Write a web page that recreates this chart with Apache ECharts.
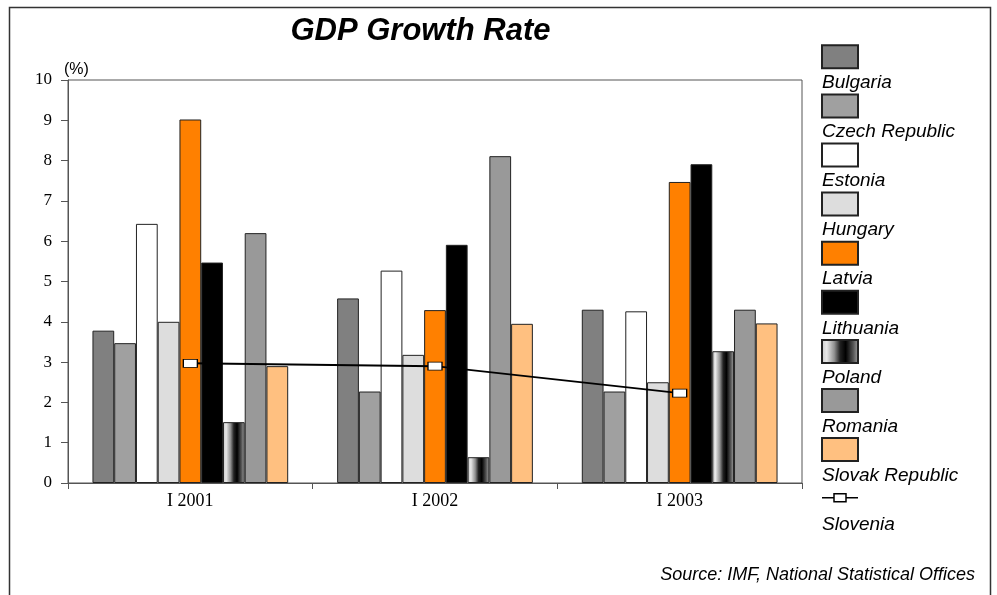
<!DOCTYPE html>
<html>
<head>
<meta charset="utf-8">
<script src="https://cdn.jsdelivr.net/npm/echarts@6/dist/echarts.min.js"></script>
<style>
html,body{margin:0;padding:0;background:#fff;}
#chart{width:997px;height:595px;}
</style>
</head>
<body>
<div id="chart"></div>
<script>
// ---- data ----
const categories = ['I 2001', 'I 2002', 'I 2003'];
const countries = ['Bulgaria', 'Czech Republic', 'Estonia', 'Hungary', 'Latvia', 'Lithuania', 'Poland', 'Romania', 'Slovak Republic', 'Slovenia'];
const bulgaria = [3.78, 4.58, 4.30];
const czech = [3.47, 2.27, 2.27];
const estonia = [6.43, 5.27, 4.26];
const hungary = [4.00, 3.18, 2.50];
const latvia = [9.02, 4.29, 7.47];
const lithuania = [5.47, 5.91, 7.91];
const poland = [1.51, 0.64, 3.27];
const romania = [6.20, 8.11, 4.30];
const slovak = [2.90, 3.95, 3.96];
const slovenia = [2.97, 2.90, 2.23];
const yTicks = [0, 1, 2, 3, 4, 5, 6, 7, 8, 9, 10];

const barValues = [bulgaria, czech, estonia, hungary, latvia, lithuania, poland, romania, slovak];
const polandGradient = {
  type: 'linear', x: 0, y: 0, x2: 1, y2: 0,
  colorStops: [
    {offset: 0, color: '#c8c8c8'},
    {offset: 0.15, color: '#e8e8e8'},
    {offset: 0.35, color: '#909090'},
    {offset: 0.5, color: '#222222'},
    {offset: 0.65, color: '#000000'},
    {offset: 0.85, color: '#555555'},
    {offset: 1, color: '#a8a8a8'}
  ]
};
const barColors = ['#808080', '#a0a0a0', '#ffffff', '#dddddd', '#ff8000', '#000000', polandGradient, '#999999', '#ffc080'];

const SANS = '"Liberation Sans", Arial, sans-serif';
const SERIF = '"Liberation Serif", "Times New Roman", serif';

const series = barValues.map((vals, i) => ({
  name: countries[i],
  type: 'bar',
  data: vals,
  barGap: '0%',
  barCategoryGap: '20%',
  itemStyle: {color: barColors[i], borderColor: '#222', borderWidth: 1},
  emphasis: {disabled: true}
}));
series.push({
  name: countries[9],
  type: 'line',
  data: slovenia,
  z: 5,
  symbol: 'rect',
  symbolSize: [14, 8],
  lineStyle: {color: '#000', width: 2},
  itemStyle: {color: '#fff', borderColor: '#000', borderWidth: 1},
  emphasis: {disabled: true}
});

const legendTop = 44.3;
const legendStep = 49.2;
const legendData = countries.map((n, i) => {
  if (i === 9) {
    return {
      name: n,
      icon: 'path://M0,4 L12,4 M12,0 L24,0 L24,8 L12,8 Z M24,4 L36,4',
      itemStyle: {color: '#fff', borderColor: '#000', borderWidth: 1.5}
    };
  }
  return {name: n, icon: 'rect'};
});

const graphics = [
  {type: 'rect', shape: {x: 9.5, y: 7.5, width: 981, height: 620}, style: {fill: 'none', stroke: '#333', lineWidth: 1.5}, silent: true, z: 0},
  {type: 'text', x: 975, y: 575, style: {text: 'Source: IMF, National Statistical Offices', font: 'italic 18px ' + SANS, fill: '#000', textAlign: 'right', textVerticalAlign: 'middle'}},
  {type: 'text', x: 64, y: 70, style: {text: '(%)', font: '16px ' + SANS, fill: '#000', textAlign: 'left', textVerticalAlign: 'middle'}}
];
countries.forEach((n, i) => {
  graphics.push({type: 'text', x: 822, y: legendTop + 38 + i * legendStep,
    style: {text: n, font: 'italic 19px ' + SANS, fill: '#000', textAlign: 'left', textVerticalAlign: 'middle'}});
});

const chart = echarts.init(document.getElementById('chart'), null, {renderer: 'canvas'});
chart.setOption({
  animation: false,
  backgroundColor: '#fff',
  title: {
    text: 'GDP Growth Rate',
    left: 420.5,
    top: 16,
    padding: 0,
    textAlign: 'center',
    textStyle: {fontFamily: SANS, fontStyle: 'italic', fontWeight: 'bold', fontSize: 31, color: '#000'}
  },
  legend: {
    orient: 'vertical',
    left: 821,
    top: legendTop,
    padding: 0,
    itemWidth: 36,
    itemHeight: 23,
    itemGap: legendStep - 25.1,
    formatter: () => '',
    textStyle: {fontSize: 1},
    selectedMode: false,
    data: legendData
  },
  grid: {left: 68, top: 80, right: 195, bottom: 112, show: true, borderColor: '#555', borderWidth: 1, containLabel: false},
  xAxis: {
    type: 'category',
    data: categories,
    boundaryGap: true,
    axisLine: {lineStyle: {color: '#555', width: 1}},
    axisTick: {show: true, length: 6, alignWithLabel: false, lineStyle: {color: '#555'}},
    axisLabel: {fontFamily: SERIF, fontSize: 18, color: '#000', margin: 9}
  },
  yAxis: {
    type: 'value',
    min: yTicks[0],
    max: yTicks[yTicks.length - 1],
    interval: 1,
    splitLine: {show: false},
    axisLine: {show: true, lineStyle: {color: '#555', width: 1}},
    axisTick: {show: true, length: 7, lineStyle: {color: '#555'}},
    axisLabel: {fontFamily: SERIF, fontSize: 17, color: '#000', margin: 16}
  },
  graphic: graphics,
  series: series
});
</script>
</body>
</html>
